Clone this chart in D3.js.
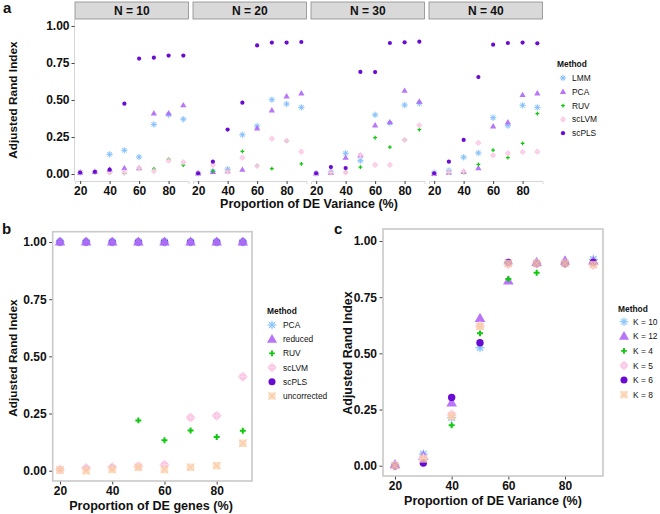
<!DOCTYPE html>
<html><head><meta charset="utf-8">
<script src="https://cdn.jsdelivr.net/npm/d3@7"></script>
<style>body{margin:0;background:#fff}svg{display:block;font-family:"Liberation Sans",Arial,sans-serif}</style>
</head><body><svg id="c" width="660" height="514"></svg>
<script>
// ---------- data ----------
const xValues = [20,30,40,50,60,70,80,90];
const xTicks = [20,40,60,80];
const yTicks = [0,0.25,0.5,0.75,1];
const yTickLabels = ["0.00","0.25","0.50","0.75","1.00"];
const facetLabels = ["N = 10","N = 20","N = 30","N = 40"];

// panel a: one row per facet (N = 10, 20, 30, 40)
const aMethods = ["LMM","PCA","RUV","scLVM","scPLS"];
const aLMM = [
  [0.01,0.015,0.133,0.16,0.115,0.335,0.40,0.37],
  [0.005,0.018,0.032,0.265,0.324,0.502,0.473,0.45],
  [0.005,0.014,0.14,0.09,0.40,0.345,0.466,0.477],
  [0.009,0.023,0.113,0.142,0.38,0.327,0.464,0.45]];
const aPCA = [
  [0.01,0.015,0.03,0.04,0.04,0.41,0.41,0.465],
  [0.005,0.015,0.02,0.029,0.309,0.43,0.525,0.545],
  [0.005,0.01,0.11,0.125,0.329,0.35,0.563,0.489],
  [0.0,0.01,0.015,0.04,0.322,0.349,0.534,0.545]];
const aRUV = [
  [0.01,0.015,0.01,0.005,0.04,0.035,0.10,0.06],
  [0.01,0.02,0.02,0.153,0.056,0.036,0.223,0.068],
  [0.005,0.01,0.011,0.047,0.245,0.182,0.23,0.30],
  [0.005,0.01,0.01,0.065,0.162,0.11,0.207,0.408]];
const aScLVM = [
  [0.01,0.015,0.01,0.01,0.04,0.02,0.09,0.08],
  [0.01,0.06,0.016,0.11,0.054,0.239,0.225,0.151],
  [0.005,0.01,0.01,0.128,0.061,0.061,0.23,0.329],
  [0.005,0.012,0.016,0.21,0.126,0.14,0.149,0.151]];
const aScPLS = [
  [0.01,0.015,0.029,0.475,0.78,0.786,0.80,0.80],
  [0.005,0.083,0.30,0.482,0.869,0.888,0.888,0.892],
  [0.005,0.047,0.04,0.69,0.689,0.885,0.89,0.894],
  [0.005,0.083,0.23,0.655,0.874,0.885,0.888,0.883]];

// panel b
const bMethods = ["PCA","reduced","RUV","scLVM","scPLS","uncorrected"];
const bPCA = [1,1,1,1,1,1,1,1];
const bReduced = [1,1,1,1,1,1,1,1];
const bRUV = [0.005,0.01,0.015,0.22,0.133,0.176,0.147,0.175];
const bScLVM = [0.005,0.012,0.015,0.02,0.026,0.233,0.24,0.411];
const bScPLS = [1,1,1,1,1,1,1,1];
const bUncorrected = [0.003,0.0,0.005,0.015,0.005,0.015,0.022,0.12];

// panel c
const cMethods = ["K = 10","K = 12","K = 4","K = 5","K = 6","K = 8"];
const cK10 = [0.0,0.052,0.214,0.525,0.90,0.90,0.90,0.918];
const cK12 = [0.005,0.043,0.28,0.656,0.822,0.905,0.912,0.91];
const cK4  = [0.0,0.012,0.18,0.589,0.831,0.859,0.90,0.90];
const cK5  = [0.0,0.033,0.228,0.622,0.896,0.90,0.90,0.893];
const cK6  = [0.0,0.012,0.304,0.547,0.905,0.90,0.90,0.905];
const cK8  = [0.0,0.03,0.22,0.62,0.90,0.90,0.90,0.895];

// ---------- styles ----------
const COL = {blue:"#84c1fb", purple:"#b066f6", green:"#10c810", pink:"#fbb2dc", dpurple:"#6a0bd4", peach:"#fdd2ae"};

const svg = d3.select("#c");

function mark(g, shape, x, y, r, col){
  const s = g.append("g").attr("transform",`translate(${x},${y})`);
  if(shape==="asterisk"){
    s.append("circle").attr("r",r*0.75).attr("fill",col).attr("opacity",0.35);
    for(let a=0;a<180;a+=45){
      const t=a*Math.PI/180;
      s.append("line").attr("x1",-r*Math.cos(t)).attr("y1",-r*Math.sin(t))
        .attr("x2",r*Math.cos(t)).attr("y2",r*Math.sin(t))
        .attr("stroke",col).attr("stroke-width",Math.max(0.9,r*0.22));
    }
  } else if(shape==="triangle"){
    s.append("path").attr("d",d3.symbol(d3.symbolTriangle, r*r*2.3)()).attr("transform",`translate(0,${r*0.12})`).attr("fill",col).attr("opacity",0.9);
  } else if(shape==="cross"){
    s.append("path").attr("d",d3.symbol(d3.symbolCross, r*r*2.2)()).attr("fill",col);
  } else if(shape==="diamond"){
    s.append("path").attr("d",`M0,${-r}L${r},0L0,${r}L${-r},0Z`).attr("fill",col).attr("opacity",0.8);
    s.append("line").attr("x1",-r).attr("x2",r).attr("stroke","#fde6f3").attr("stroke-width",Math.max(0.6,r*0.15));
    s.append("line").attr("y1",-r).attr("y2",r).attr("stroke","#fde6f3").attr("stroke-width",Math.max(0.6,r*0.15));
  } else if(shape==="circle"){
    s.append("circle").attr("r",r).attr("fill",col);
  } else if(shape==="squarex"){
    s.append("rect").attr("x",-r).attr("y",-r).attr("width",2*r).attr("height",2*r).attr("fill",col).attr("opacity",0.75);
    s.append("line").attr("x1",-r).attr("y1",-r).attr("x2",r).attr("y2",r).attr("stroke","#f6c49a").attr("stroke-width",0.8);
    s.append("line").attr("x1",-r).attr("y1",r).attr("x2",r).attr("y2",-r).attr("stroke","#f6c49a").attr("stroke-width",0.8);
  }
}

function text(x,y,str,opt={}){
  const t = svg.append("text").attr("x",x).attr("y",y).text(str)
    .attr("font-size",opt.size||12).attr("font-weight",opt.weight||"normal")
    .attr("fill",opt.fill||"#111").attr("text-anchor",opt.anchor||"start");
  if(opt.rotate) t.attr("transform",`rotate(${opt.rotate},${x},${y})`);
  return t;
}

// ---------- panel a ----------
const aStyles = {LMM:["asterisk",COL.blue,3.2], PCA:["triangle",COL.purple,2.7], RUV:["cross",COL.green,1.9], scLVM:["diamond",COL.pink,3.1], scPLS:["circle",COL.dpurple,2.1]};
const aData = {LMM:aLMM, PCA:aPCA, RUV:aRUV, scLVM:aScLVM, scPLS:aScPLS};
const facetLeft = [75,193,311,429], facetW = 113.5;
const aY = d3.scaleLinear().domain([0,1]).range([174,26]);
const aTop = 19, aBottom = 181;

facetLeft.forEach((L,fi)=>{
  const x = d3.scaleLinear().domain([16.5,93.5]).range([L,L+facetW]);
  svg.append("rect").attr("x",L).attr("y",2).attr("width",facetW).attr("height",17)
    .attr("fill","#d9d9d9").attr("stroke","#8a8a8a").attr("stroke-width",0.8);
  text(L+facetW/2,15,facetLabels[fi],{size:12,weight:"bold",anchor:"middle"});
  const ax = svg.append("g").attr("transform",`translate(0,${aBottom})`)
    .call(d3.axisBottom(x).tickValues(xTicks).tickSize(3).tickPadding(2));
  ax.select(".domain").attr("stroke","#d6d6d6").attr("stroke-width",1);
  ax.selectAll(".tick line").attr("stroke","#444");
  ax.selectAll("text").attr("font-size",12).attr("font-weight","bold").attr("fill","#111").attr("font-family","Liberation Sans, Arial, sans-serif");
  const g = svg.append("g");
  aMethods.forEach(m=>{
    const [sh,col,r] = aStyles[m];
    aData[m][fi].forEach((v,i)=> mark(g,sh,x(xValues[i]),aY(v),r,col));
  });
});
{
  const ay = svg.append("g").attr("transform",`translate(74.5,0)`)
    .call(d3.axisLeft(aY).tickValues(yTicks).tickFormat((d,i)=>yTickLabels[i]).tickSize(3).tickPadding(2).tickSizeOuter(0));
  ay.select(".domain").attr("d",`M0,${aTop}V${aBottom}`).attr("stroke","#d6d6d6");
  ay.selectAll(".tick line").attr("stroke","#444");
  ay.selectAll("text").attr("font-size",12).attr("font-weight","bold").attr("fill","#111").attr("font-family","Liberation Sans, Arial, sans-serif");
}
text(309,208,"Proportion of DE Variance (%)",{size:12.5,weight:"bold",anchor:"middle"});
text(17,100,"Adjusted Rand Index",{size:11.8,weight:"bold",anchor:"middle",rotate:-90});
text(3,13,"a",{size:15,weight:"bold"});
text(557,67,"Method",{size:8.4,weight:"bold"});
aMethods.forEach((m,i)=>{
  const y = 78+13.8*i; const [sh,col,r]=aStyles[m];
  mark(svg,sh,563,y,r,col);
  text(572,y+3,m,{size:8.4});
});

// ---------- helper for framed panels ----------
function framed(cfg){
  const x = d3.scaleLinear().domain([20,80]).range(cfg.x2080);
  const y = d3.scaleLinear().domain([0,1]).range(cfg.y01);
  const ax = svg.append("g").attr("transform",`translate(0,${cfg.bottom})`)
    .call(d3.axisBottom(x).tickValues(xTicks).tickSize(3.5).tickPadding(1.5).tickSizeOuter(0));
  ax.select(".domain").remove();
  const ay = svg.append("g").attr("transform",`translate(${cfg.left},0)`)
    .call(d3.axisLeft(y).tickValues(yTicks).tickFormat((d,i)=>yTickLabels[i]).tickSize(3.5).tickPadding(2.5).tickSizeOuter(0));
  ay.select(".domain").remove();
  [ax,ay].forEach(a=>{
    a.selectAll(".tick line").attr("stroke","#444");
    a.selectAll("text").attr("font-size",12).attr("font-weight","bold").attr("fill","#111").attr("font-family","Liberation Sans, Arial, sans-serif");
  });
  svg.append("rect").attr("x",cfg.left).attr("y",cfg.top).attr("width",cfg.right-cfg.left).attr("height",cfg.bottom-cfg.top)
    .attr("fill","none").attr("stroke","#c9c9c9").attr("stroke-width",1.6);
  const g = svg.append("g");
  cfg.order.forEach(m=>{
    const [sh,col,r] = cfg.styles[m];
    cfg.data[m].forEach((v,i)=> mark(g,sh,x(xValues[i]),y(v),r,col));
  });
  return {x,y};
}

// ---------- panel b ----------
const bStyles = {PCA:["asterisk",COL.blue,4.6], reduced:["triangle",COL.purple,4.6], RUV:["cross",COL.green,3.0], scLVM:["diamond",COL.pink,5.0], scPLS:["circle",COL.dpurple,3.7], uncorrected:["squarex",COL.peach,3.7]};
const bData = {PCA:bPCA, reduced:bReduced, RUV:bRUV, scLVM:bScLVM, scPLS:bScPLS, uncorrected:bUncorrected};
framed({x2080:[60,216.7], y01:[470.7,242], left:52.7, right:252, top:231.7, bottom:481,
  styles:bStyles, data:bData, order:["scPLS","PCA","reduced","RUV","scLVM","uncorrected"]});
text(151,510,"Proportion of DE genes (%)",{size:12.6,weight:"bold",anchor:"middle"});
text(17,358,"Adjusted Rand Index",{size:11.8,weight:"bold",anchor:"middle",rotate:-90});
text(2,234,"b",{size:15,weight:"bold"});
text(267,314,"Method",{size:8.4,weight:"bold"});
bMethods.forEach((m,i)=>{
  const y = 325+14.2*i; const [sh,col,r]=bStyles[m];
  mark(svg,sh,272,y,r*0.95,col);
  text(283,y+3,m,{size:8.4});
});

// ---------- panel c ----------
const cStyles = {"K = 10":["asterisk",COL.blue,4.6], "K = 12":["triangle",COL.purple,4.6], "K = 4":["cross",COL.green,3.0], "K = 5":["diamond",COL.pink,5.0], "K = 6":["circle",COL.dpurple,3.7], "K = 8":["squarex",COL.peach,3.7]};
const cData = {"K = 10":cK10, "K = 12":cK12, "K = 4":cK4, "K = 5":cK5, "K = 6":cK6, "K = 8":cK8};
framed({x2080:[395,565], y01:[465.7,241], left:383, right:603, top:229, bottom:476,
  styles:cStyles, data:cData, order:cMethods});
text(493,505,"Proportion of DE Variance (%)",{size:12.5,weight:"bold",anchor:"middle"});
text(352,353,"Adjusted Rand Index",{size:12.4,weight:"bold",anchor:"middle",rotate:-90});
text(334,234,"c",{size:15,weight:"bold"});
text(618,312,"Method",{size:8.4,weight:"bold"});
cMethods.forEach((m,i)=>{
  const y = 321.7+14.6*i; const [sh,col,r]=cStyles[m];
  mark(svg,sh,624,y,r*0.95,col);
  text(633,y+3,m,{size:8.4});
});
</script></body></html>
